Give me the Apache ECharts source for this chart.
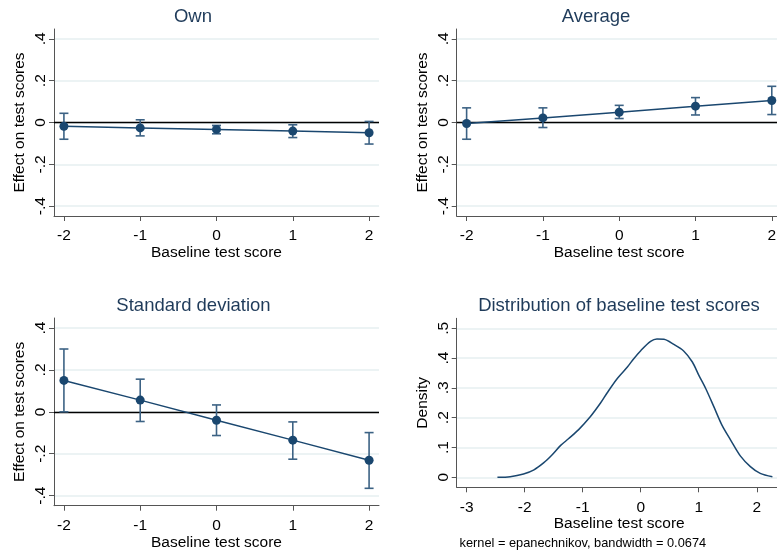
<!DOCTYPE html>
<html>
<head>
<meta charset="utf-8">
<script src="https://cdn.jsdelivr.net/npm/echarts@6/dist/echarts.min.js"></script>
<style>
  html, body { margin: 0; padding: 0; background: #fff; }
  #chart { width: 777px; height: 554px; }
</style>
</head>
<body>
<div id="chart"></div>
<script>
// baseline test score categories
const xCats = [-2, -1, 0, 1, 2];

// Own
const ownEst = [-0.018, -0.026, -0.033, -0.041, -0.049];
const ownLo = [-0.080, -0.064, -0.054, -0.072, -0.103];
const ownHi = [0.044, 0.013, -0.014, -0.011, 0.005];

// Average
const avgEst = [-0.005, 0.022, 0.049, 0.078, 0.105];
const avgLo = [-0.080, -0.024, 0.019, 0.036, 0.038];
const avgHi = [0.070, 0.070, 0.082, 0.119, 0.173];

// Standard deviation
const sdEst = [0.150, 0.056, -0.040, -0.135, -0.231];
const sdLo = [0.000, -0.046, -0.113, -0.226, -0.365];
const sdHi = [0.300, 0.156, 0.033, -0.048, -0.099];

// kernel density of baseline test scores
const densX = [-2.47, -2.25, -2.02, -1.84, -1.67, -1.53, -1.38, -1.24, -1.07, -0.87, -0.69, -0.58, -0.41, -0.23, -0.12, 0.0,
  0.17, 0.28, 0.40, 0.57, 0.74, 0.89, 1.0, 1.12, 1.26, 1.40, 1.55, 1.72, 1.89, 2.06, 2.27];
const densY = [0, 0.002, 0.011, 0.025, 0.049, 0.075, 0.107, 0.13, 0.16, 0.203, 0.250, 0.283, 0.330, 0.370, 0.398, 0.425,
  0.456, 0.464, 0.463, 0.446, 0.424, 0.387, 0.343, 0.298, 0.237, 0.175, 0.125, 0.071, 0.036, 0.013, 0.002];

// tick labels
const effTicks = [-0.4, -0.2, 0, 0.2, 0.4];
const effLabels = ['-.4', '-.2', '0', '.2', '.4'];
const densTicks = [0, 0.1, 0.2, 0.3, 0.4, 0.5];
const densLabels = ['0', '.1', '.2', '.3', '.4', '.5'];
const scoreTicks = [-2, -1, 0, 1, 2];
const densScoreTicks = [-3, -2, -1, 0, 1, 2];

const FONT = 'Liberation Sans, Arial, Helvetica, sans-serif';
const NAVY = '#1a476f';
const BAR = '#3c6284';
const AXIS = '#555';
const GRID = '#e6eff0';
const TITLE = '#1f3b5a';

const chart = echarts.init(document.getElementById('chart'), null, { renderer: 'canvas' });

function labelFor(ticks, labels) {
  return function (v) {
    for (let i = 0; i < ticks.length; i++) {
      if (Math.abs(ticks[i] - v) < 1e-6) return labels[i];
    }
    return '';
  };
}

function xAxisDef(idx, min, max, ticks) {
  return {
    type: 'value', gridIndex: idx, min: min, max: max,
    name: 'Baseline test score', nameLocation: 'middle', nameGap: 25,
    nameTextStyle: { color: '#000', fontSize: 15.5, fontFamily: FONT },
    axisLine: { show: true, onZero: false, lineStyle: { color: AXIS, width: 1 } },
    axisTick: { show: true, length: 5, customValues: ticks, lineStyle: { color: AXIS, width: 1 } },
    axisLabel: { customValues: ticks, margin: 12, color: '#000', fontSize: 15.5, fontFamily: FONT },
    splitLine: { show: false }
  };
}

function yAxisDef(idx, min, max, ticks, labels, name) {
  return {
    type: 'value', gridIndex: idx, min: min, max: max,
    name: name, nameLocation: 'middle', nameGap: 26,
    nameTextStyle: { color: '#000', fontSize: 15.5, fontFamily: FONT },
    axisLine: { show: true, onZero: false, lineStyle: { color: AXIS, width: 1 } },
    axisTick: { show: true, length: 5, customValues: ticks, lineStyle: { color: AXIS, width: 1 } },
    axisLabel: { customValues: ticks, rotate: 90, margin: 5, color: '#000', fontSize: 15.5, fontFamily: FONT,
      formatter: labelFor(ticks, labels) },
    splitLine: { show: true, lineStyle: { color: GRID, width: 1.5 } }
  };
}

function capBars(idx, lo, hi) {
  return {
    type: 'custom', xAxisIndex: idx, yAxisIndex: idx, z: 2,
    data: xCats.map((x, i) => [x, lo[i], hi[i]]),
    encode: { x: 0, y: [1, 2] },
    renderItem: function (params, api) {
      const top = api.coord([api.value(0), api.value(2)]);
      const bot = api.coord([api.value(0), api.value(1)]);
      const w = 4.5;
      const st = { stroke: BAR, lineWidth: 1.6 };
      return {
        type: 'group',
        children: [
          { type: 'line', shape: { x1: top[0], y1: top[1], x2: bot[0], y2: bot[1] }, style: st },
          { type: 'line', shape: { x1: top[0] - w, y1: top[1], x2: top[0] + w, y2: top[1] }, style: st },
          { type: 'line', shape: { x1: bot[0] - w, y1: bot[1], x2: bot[0] + w, y2: bot[1] }, style: st }
        ]
      };
    },
    markLine: {
      silent: true, symbol: 'none', z: 1,
      label: { show: false },
      lineStyle: { color: '#000', width: 1.3, type: 'solid' },
      data: [{ yAxis: 0 }]
    }
  };
}

function estLine(idx, est) {
  return {
    type: 'line', xAxisIndex: idx, yAxisIndex: idx, z: 3,
    data: xCats.map((x, i) => [x, est[i]]),
    symbol: 'circle', symbolSize: 9, showSymbol: true,
    lineStyle: { color: NAVY, width: 1.5 },
    itemStyle: { color: NAVY }
  };
}

function titleText(x, y, txt) {
  return {
    type: 'text', x: x, y: y,
    style: { text: txt, textAlign: 'center', textVerticalAlign: 'middle',
      font: '18.5px ' + FONT, fill: TITLE }
  };
}

const option = {
  animation: false,
  backgroundColor: '#fff',
  grid: [
    { left: 54, top: 29, width: 325, height: 187, outerBoundsMode: 'none' },
    { left: 456.7, top: 29, width: 325, height: 187, outerBoundsMode: 'none' },
    { left: 54, top: 318, width: 325, height: 187.7, outerBoundsMode: 'none' },
    { left: 456.7, top: 318.3, width: 325, height: 169, outerBoundsMode: 'none' }
  ],
  xAxis: [
    xAxisDef(0, -2.13, 2.13, scoreTicks),
    xAxisDef(1, -2.13, 2.13, scoreTicks),
    xAxisDef(2, -2.13, 2.13, scoreTicks),
    xAxisDef(3, -3.172, 2.43, densScoreTicks)
  ],
  yAxis: [
    yAxisDef(0, -0.447, 0.447, effTicks, effLabels, 'Effect on test scores'),
    yAxisDef(1, -0.447, 0.447, effTicks, effLabels, 'Effect on test scores'),
    yAxisDef(2, -0.448, 0.448, effTicks, effLabels, 'Effect on test scores'),
    yAxisDef(3, -0.0336, 0.5336, densTicks, densLabels, 'Density')
  ],
  graphic: [
    titleText(193, 16.5, 'Own'),
    titleText(596, 16.5, 'Average'),
    titleText(193.5, 306, 'Standard deviation'),
    titleText(619, 306, 'Distribution of baseline test scores'),
    {
      type: 'text', x: 459.5, y: 543.3,
      style: { text: 'kernel = epanechnikov, bandwidth = 0.0674', textAlign: 'left', textVerticalAlign: 'middle',
        font: '12.8px ' + FONT, fill: '#000' }
    }
  ],
  series: [
    capBars(0, ownLo, ownHi), estLine(0, ownEst),
    capBars(1, avgLo, avgHi), estLine(1, avgEst),
    capBars(2, sdLo, sdHi), estLine(2, sdEst),
    {
      type: 'line', xAxisIndex: 3, yAxisIndex: 3, z: 3,
      data: densX.map((x, i) => [x, densY[i]]),
      showSymbol: false, smooth: 0.3,
      lineStyle: { color: NAVY, width: 1.5 }
    }
  ]
};

chart.setOption(option);
</script>
</body>
</html>
